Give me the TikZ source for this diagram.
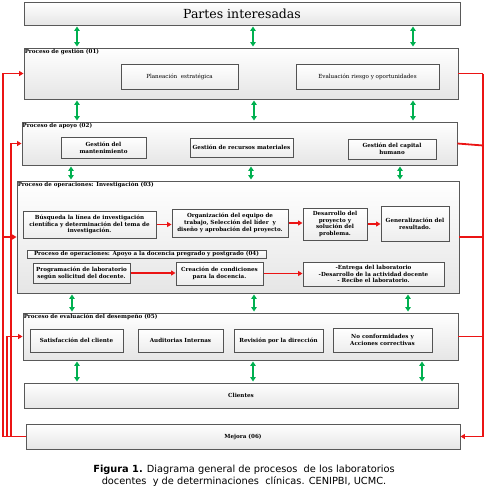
\documentclass[tikz,border=0pt]{standalone}
\usepackage{fontspec}
\setmainfont{DejaVu Serif}
\newfontfamily\capfont{DejaVu Sans}
\usetikzlibrary{arrows.meta,shadows}
\definecolor{grn}{RGB}{0,176,80}
\definecolor{rd}{RGB}{235,20,20}
\tikzset{
  outerbox/.style={draw=gray!70!black, line width=0.9pt, top color=white, bottom color=gray!20, inner sep=0pt, drop shadow={shadow xshift=0.8pt, shadow yshift=-0.8pt, opacity=0.25, fill=gray}},
  innerbox/.style={draw=gray!65!black, line width=1pt, top color=white, bottom color=gray!14, inner sep=1pt, align=center, font=\fontsize{5.6}{6.8}\selectfont\bfseries},
  plainbox/.style={draw=gray!65!black, line width=1pt, top color=white, bottom color=gray!14, inner sep=1pt, align=center, font=\fontsize{5.6}{6.8}\selectfont},
  lbl/.style={anchor=north west, inner sep=1pt, font=\fontsize{5.6}{6.8}\selectfont\bfseries},
  garrow/.style={grn, line width=1.6pt, {Triangle[width=5.5pt,length=4.5pt]}-{Triangle[width=5.5pt,length=4.5pt]}, shorten >=1pt, shorten <=1pt},
  rarrow/.style={rd, line width=1.8pt, -{Triangle[width=5pt,length=4.5pt]}},
  rline/.style={rd, line width=1.8pt},
}
\begin{document}
\begin{tikzpicture}[x=1pt,y=-1pt]
\useasboundingbox (0,0) rectangle (485,490);
% outer boxes
\node[outerbox, minimum width=436pt, minimum height=23pt] (partes) at (242,13.5) {\fontsize{12.5}{14}\selectfont Partes interesadas};
\node[outerbox, minimum width=434pt, minimum height=51pt] (gestion) at (241,73.5) {};
\node[outerbox, minimum width=435pt, minimum height=43pt] (apoyo) at (239.5,143.5) {};
\node[outerbox, minimum width=442pt, minimum height=112pt] (oper) at (238,237) {};
\node[outerbox, minimum width=435pt, minimum height=47pt] (evald) at (240.5,336.5) {};
\node[outerbox, minimum width=434pt, minimum height=25pt, font=\fontsize{5.6}{6.8}\selectfont\bfseries] (clientes) at (241,395.5) {Clientes};
\node[outerbox, minimum width=434pt, minimum height=25pt, font=\fontsize{5.6}{6.8}\selectfont\bfseries] (mejora) at (243,436.5) {Mejora (06)};
% labels
\node[lbl] (lg) at (gestion.north west) {Proceso de gestión (01)};
\node[lbl] (la) at (apoyo.north west) {Proceso de apoyo (02)};
\node[lbl] (lo) at (oper.north west) {Proceso de operaciones: Investigación (03)};
\node[lbl] (le) at (evald.north west) {Proceso de evaluación del desempeño (05)};
% gestion inner
\node[plainbox, minimum width=117pt, minimum height=25pt] (plan) at (179.5,76.5) {Planeación\ \ estratégica};
\node[plainbox, minimum width=143pt, minimum height=25pt] (evalr) at (367.5,76.5) {Evaluación riesgo y oportunidades};
% apoyo inner
\node[innerbox, minimum width=85pt, minimum height=21pt] (mant) at (103.5,147.5) {Gestión del\\mantenimiento};
\node[innerbox, minimum width=103pt, minimum height=19pt] (recm) at (241.5,147.5) {Gestión de recursos materiales};
\node[innerbox, minimum width=88pt, minimum height=20pt] (capital) at (392,149) {Gestión del capital\\humano};
% operaciones inner
\node[innerbox, minimum width=133pt, minimum height=27pt] (busq) at (89.5,224.5) {Búsqueda la línea de investigación\\científica y determinación del tema de\\investigación.};
\node[innerbox, minimum width=116pt, minimum height=28pt] (organ) at (230,223) {Organización del equipo de\\trabajo, Selección del líder\ \ y\\diseño y aprobación del proyecto.};
\node[innerbox, minimum width=64pt, minimum height=32pt] (desa) at (335,224) {Desarrollo del\\proyecto y\\solución del\\problema.};
\node[innerbox, minimum width=68pt, minimum height=35pt] (gener) at (415,223.5) {Generalización del\\resultado.};
\node[innerbox, minimum width=239pt, minimum height=8pt, inner sep=0.5pt, line width=0.7pt] (doclbl) at (146.5,254) {Proceso de operaciones: Apoyo a la docencia pregrado y postgrado (04)};
\node[innerbox, minimum width=97pt, minimum height=20pt] (prog) at (81.5,273) {Programación de laboratorio\\según solicitud del docente.};
\node[innerbox, minimum width=87pt, minimum height=23pt] (creac) at (219.5,273.5) {Creación de condiciones\\para la docencia.};
\node[innerbox, minimum width=141pt, minimum height=24pt] (entrega) at (373.5,274) {-Entrega del laboratorio\\-Desarrollo de la actividad docente\\- Recibe el laboratorio.};
% evaluacion inner
\node[innerbox, minimum width=93pt, minimum height=23pt] (satis) at (76.5,340.5) {Satisfacción del cliente};
\node[innerbox, minimum width=85pt, minimum height=23pt] (audit) at (180.5,340.5) {Auditorias Internas};
\node[innerbox, minimum width=89pt, minimum height=23pt] (revis) at (278.5,340.5) {Revisión por la dirección};
\node[innerbox, minimum width=99pt, minimum height=24pt] (nocon) at (382.5,340) {No conformidades y\\Acciones correctivas};
% red internal arrows
\draw[rarrow] (busq.east) -- (organ.west |- busq.east);
\draw[rarrow] (organ.east) -- (desa.west |- organ.east);
\draw[rarrow] (desa.east) -- (gener.west |- desa.east);
\draw[rarrow] (prog.east) -- (creac.west |- prog.east);
\draw[rarrow] (creac.east) -- (entrega.west |- creac.east);
% green arrows
\foreach \gx in {77,253,413} \draw[garrow] (partes.south -| \gx,0) -- (gestion.north -| \gx,0);
\foreach \gx in {77,254,413} \draw[garrow] (gestion.south -| \gx,0) -- (apoyo.north -| \gx,0);
\foreach \gx in {71,251,400} \draw[garrow] (apoyo.south -| \gx,0) -- (oper.north -| \gx,0);
\foreach \gx in {72,254,408} \draw[garrow] (oper.south -| \gx,0) -- (evald.north -| \gx,0);
\foreach \gx in {77,253,422} \draw[garrow] (evald.south -| \gx,0) -- (clientes.north -| \gx,0);
% feedback left
\coordinate (LA) at (3,0);
\coordinate (LB) at (7,0);
\coordinate (LC) at (11,0);
\coordinate (RR) at (483,0);
\draw[rline] (mejora.west) -- (mejora.west -| LA);
\draw[rarrow] (mejora.west -| LA) |- (gestion.west);
\draw[rarrow] (oper.west -| LA) -- (oper.west);
\draw[rarrow] (mejora.west -| LB) |- (evald.west);
\draw[rarrow] (mejora.west -| LC) |- (apoyo.west);
% feedback right
\draw[rline] (gestion.east) -- (gestion.east -| RR);
\draw[rline] (apoyo.east) -- ([yshift=-2pt]apoyo.east -| RR);
\draw[rline] (oper.east) -- (oper.east -| RR);
\draw[rline] (evald.east) -- (evald.east -| RR);
\draw[rarrow] (gestion.east -| RR) |- (mejora.east);
% caption
\node[align=center, font=\capfont\fontsize{9.8}{12}\selectfont] (cap) at (244,476) {\textbf{Figura 1.} Diagrama general de procesos\ \ de los laboratorios\\docentes\ \ y de determinaciones\ \ clínicas. CENIPBI, UCMC.};
\end{tikzpicture}
\end{document}
